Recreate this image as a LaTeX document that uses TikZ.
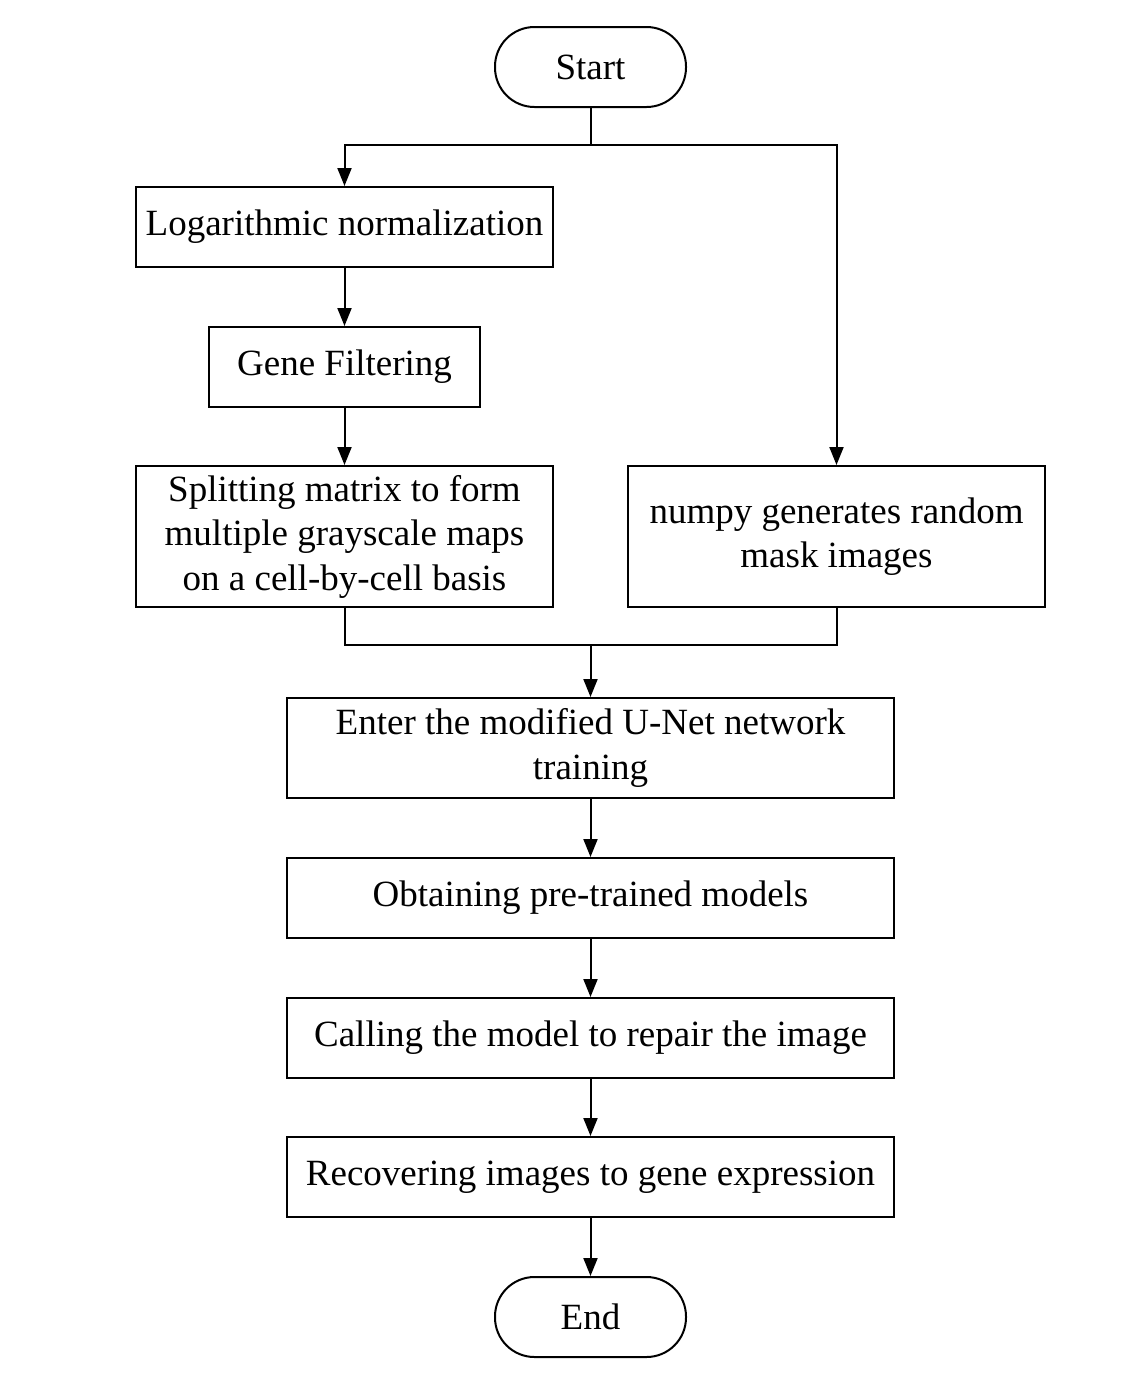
\documentclass[tikz,border=0pt]{standalone}
\usepackage{fontspec}
\setmainfont{Liberation Serif}
\usetikzlibrary{arrows.meta}
\begin{document}
\begin{tikzpicture}[x=1pt,y=-1pt,
  box/.style={draw, line width=2pt, rectangle, inner sep=0pt, align=center,
    font=\fontsize{37}{44.5}\selectfont},
  term/.style={box, rounded corners=39.5pt, minimum width=191pt, minimum height=80pt},
  arr/.style={line width=2pt, -{Triangle[length=18pt,width=14pt]}},
  ln/.style={line width=2pt}]
\useasboundingbox (0,0) rectangle (1146,1390);
\node[term] (start) at (590.5,67) {Start};
\node[box, minimum width=417pt, minimum height=80pt] (log) at (344.5,227) {Logarithmic normalization};
\node[box, minimum width=271pt, minimum height=80pt] (gene) at (344.5,367) {Gene Filtering};
\node[box, minimum width=417pt, minimum height=141pt] (split) at (344.5,536.5) {Splitting matrix to form\\multiple grayscale maps\\on a cell-by-cell basis};
\node[box, minimum width=417pt, minimum height=141pt] (numpy) at (836.5,536.5) {numpy generates random\\mask images};
\node[box, minimum width=607pt, minimum height=100pt] (unet) at (590.5,748) {Enter the modified U-Net network\\training};
\node[box, minimum width=607pt, minimum height=80pt] (obt) at (590.5,898) {Obtaining pre-trained models};
\node[box, minimum width=607pt, minimum height=80pt] (call) at (590.5,1038) {Calling the model to repair the image};
\node[box, minimum width=607pt, minimum height=80pt] (rec) at (590.5,1177) {Recovering images to gene expression};
\node[term] (end) at (590.5,1317) {End};
\coordinate (j1) at (590.5,145);
\coordinate (j2) at (590.5,645);
\draw[ln] (start.south) -- (j1);
\draw[arr] (j1) -| (log.north);
\draw[arr] (j1) -| (numpy.north);
\draw[arr] (log) -- (gene);
\draw[arr] (gene) -- (split);
\draw[ln] (split.south) |- (j2);
\draw[ln] (numpy.south) |- (j2);
\draw[arr] (j2) -- (unet.north);
\draw[arr] (unet) -- (obt);
\draw[arr] (obt) -- (call);
\draw[arr] (call) -- (rec);
\draw[arr] (rec) -- (end);
\end{tikzpicture}
\end{document}
